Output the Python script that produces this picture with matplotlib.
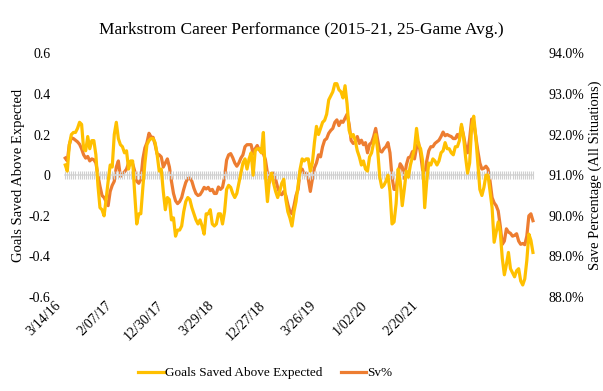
import matplotlib
matplotlib.use("Agg")
import matplotlib.pyplot as plt
import numpy as np

plt.rcParams['font.family'] = ['Liberation Serif', 'DejaVu Serif']

# 25-game rolling values, one per game window
gsax = [0.05, 0.02, 0.15, 0.20, 0.21, 0.21, 0.23, 0.26, 0.25, 0.13,
        0.12, 0.19, 0.13, 0.17, 0.17, 0.10, -0.05, -0.16, -0.17, -0.20,
        -0.12, -0.03, 0.05, 0.04, 0.20, 0.26, 0.18, 0.15, 0.14, 0.11,
        0.12, 0.03, 0.07, 0.07, -0.09, -0.24, -0.19, -0.19, -0.06, 0.06,
        0.15, 0.17, 0.18, 0.18, 0.16, 0.10, 0.02, 0.03, -0.08, -0.17,
        -0.11, -0.12, -0.22, -0.21, -0.30, -0.27, -0.27, -0.25, -0.18, -0.13,
        -0.11, -0.12, -0.16, -0.19, -0.22, -0.24, -0.22, -0.25, -0.29, -0.19,
        -0.19, -0.17, -0.24, -0.25, -0.24, -0.19, -0.19, -0.24, -0.18, -0.07,
        -0.05, -0.06, -0.09, -0.11, -0.09, -0.04, 0.01, 0.06, 0.08, 0.03,
        0.08, 0.11, 0.00, 0.12, 0.13, 0.13, 0.11, 0.21, 0.00, -0.13,
        -0.02, 0.01, -0.04, -0.08, -0.11, -0.08, -0.04, -0.02, -0.12, -0.18,
        -0.21, -0.25, -0.18, -0.13, -0.05, 0.03, 0.08, 0.07, 0.08, 0.08,
        0.02, 0.06, 0.16, 0.24, 0.20, 0.23, 0.26, 0.27, 0.30, 0.37,
        0.39, 0.41, 0.45, 0.45, 0.42, 0.41, 0.38, 0.44, 0.35, 0.22,
        0.19, 0.20, 0.17, 0.12, 0.09, 0.05, 0.07, 0.03, 0.02, 0.09,
        0.11, 0.16, 0.20, 0.12, -0.01, -0.06, -0.05, -0.03, 0.00, -0.08,
        -0.24, -0.23, -0.14, 0.03, -0.03, -0.15, -0.07, 0.02, -0.01, 0.05,
        0.09, 0.13, 0.23, 0.15, 0.13, 0.07, -0.16, -0.03, 0.06, 0.05,
        0.08, 0.07, 0.05, 0.07, 0.11, 0.12, 0.16, 0.13, 0.13, 0.11,
        0.10, 0.14, 0.14, 0.17, 0.25, 0.19, 0.09, 0.01, 0.06, 0.24,
        0.29, 0.19, 0.06, -0.07, -0.10, -0.06, 0.00, 0.00, -0.08, -0.16,
        -0.33, -0.28, -0.23, -0.28, -0.41, -0.49, -0.44, -0.38, -0.46, -0.48,
        -0.50, -0.47, -0.46, -0.52, -0.54, -0.51, -0.42, -0.29, -0.32, -0.38]

sv_pct = [91.42, 91.35, 91.75, 91.92, 91.90, 91.86, 91.82, 91.76, 91.65, 91.50,
          91.42, 91.46, 91.35, 91.40, 91.38, 91.30, 91.00, 90.73, 90.50, 90.45,
          90.35, 90.25, 90.60, 90.75, 90.85, 91.20, 91.35, 90.97, 91.02, 91.08,
          91.15, 91.30, 91.30, 91.28, 91.10, 90.85, 90.80, 90.90, 91.40, 91.67,
          91.80, 92.03, 91.94, 91.93, 91.75, 91.52, 91.50, 91.45, 91.20, 91.30,
          91.40, 91.20, 90.85, 90.55, 90.37, 90.30, 90.35, 90.45, 90.65, 90.82,
          90.92, 90.93, 90.85, 90.68, 90.55, 90.50, 90.52, 90.60, 90.70, 90.66,
          90.70, 90.62, 90.65, 90.55, 90.55, 90.71, 90.65, 90.70, 90.95, 91.37,
          91.50, 91.53, 91.43, 91.30, 91.22, 91.30, 91.42, 91.50, 91.70, 91.75,
          91.75, 91.75, 91.52, 91.65, 91.73, 91.62, 91.57, 91.53, 91.38, 91.05,
          90.82, 91.04, 91.05, 90.90, 90.70, 90.55, 90.52, 90.60, 90.50, 90.28,
          90.10, 90.05, 90.25, 90.50, 90.65, 91.10, 91.15, 91.02, 91.05, 90.90,
          90.60, 90.90, 91.18, 91.30, 91.50, 91.45, 91.70, 91.86, 91.90, 92.03,
          92.10, 92.15, 92.30, 92.36, 92.22, 92.33, 92.30, 92.40, 92.50, 92.25,
          91.85, 91.78, 91.82, 91.95, 91.78, 91.86, 91.75, 91.80, 91.55, 91.76,
          91.80, 91.95, 92.15, 91.86, 91.60, 91.57, 91.65, 91.70, 91.80, 91.55,
          90.95, 90.65, 90.65, 91.05, 91.28, 91.20, 90.92, 91.25, 91.43, 91.45,
          91.58, 91.40, 91.68, 91.80, 91.52, 91.12, 91.00, 91.35, 91.60, 91.70,
          91.70, 91.78, 91.82, 91.86, 91.95, 92.06, 91.97, 92.00, 91.97, 91.95,
          91.90, 91.90, 92.00, 91.90, 92.20, 91.98, 91.70, 91.55, 91.90, 92.38,
          92.30, 91.95, 91.60, 91.30, 91.15, 91.17, 91.22, 91.15, 90.85, 90.45,
          90.32, 90.25, 90.12, 89.75, 89.30, 89.38, 89.68, 89.60, 89.57, 89.50,
          89.52, 89.56, 89.38, 89.30, 89.32, 89.29, 89.50, 90.00, 90.05, 89.88]

date_labels = ['3/14/16', '2/07/17', '12/30/17', '3/29/18',
               '12/27/18', '3/26/19', '1/02/20', '2/20/21']
label_step = 25

yellow = '#FFC000'
orange = '#ED7D31'

x = np.arange(len(gsax))

fig = plt.figure(figsize=(6.03, 3.91), dpi=100)
ax = fig.add_axes([0.0862, 0.240, 0.8027, 0.624])
ax2 = ax.twinx()

# zero axis line with category ticks
ax.plot(x, np.zeros(len(x)), color='#d9d9d9', lw=1.2, zorder=1)
ax.plot(x, np.zeros(len(x)), ls='none', marker='|', ms=6, mew=0.8,
        color='#d0d0d0', zorder=1)

l1, = ax.plot(x, gsax, color=yellow, lw=2.3, zorder=3,
              label='Goals Saved Above Expected')
l2, = ax2.plot(x, sv_pct, color=orange, lw=2.3, zorder=4, label='Sv%')

ax.set_ylim(-0.6, 0.6)
ax.set_yticks(np.arange(-0.6, 0.61, 0.2))
ax.set_yticklabels(['-0.6', '-0.4', '-0.2', '0', '0.2', '0.4', '0.6'])
ax2.set_ylim(88, 94)
ax2.set_yticks(np.arange(88, 94.1, 1))
ax2.set_yticklabels(['%.1f%%' % v for v in np.arange(88, 94.1, 1)])

# rotated labels sit a little left of their category, like excel
ticks = np.arange(0, len(date_labels) * label_step, label_step) - 5.5
ax.set_xticks(ticks)
ax.set_xticklabels(date_labels, rotation=45, ha='right', rotation_mode='anchor')
ax.set_xlim(-6.5, len(x) + 0.5)

for a in (ax, ax2):
    for s in a.spines.values():
        s.set_visible(False)
    a.tick_params(length=0, labelsize=10, colors='black')
ax.tick_params(axis='y', pad=1)
ax2.tick_params(axis='y', pad=9)
ax.tick_params(axis='x', pad=1)

ax.set_zorder(ax2.get_zorder() + 1)
ax.patch.set_visible(False)

ax.set_ylabel('Goals Saved Above Expected', fontsize=10.5, labelpad=3)
ax2.set_ylabel('Save Percentage (All Situations)', fontsize=10.5, labelpad=3)

fig.suptitle('Markstrom Career Performance (2015-21, 25-Game Avg.)',
             fontsize=12.5, x=0.5, y=0.945)

fig.legend(handles=[l1, l2], loc='lower center', ncol=2, frameon=False,
           fontsize=9.5, bbox_to_anchor=(0.44, 0.0), handlelength=1.9,
           columnspacing=1.4, handletextpad=0.1)

fig.savefig('out.png', dpi=100)
